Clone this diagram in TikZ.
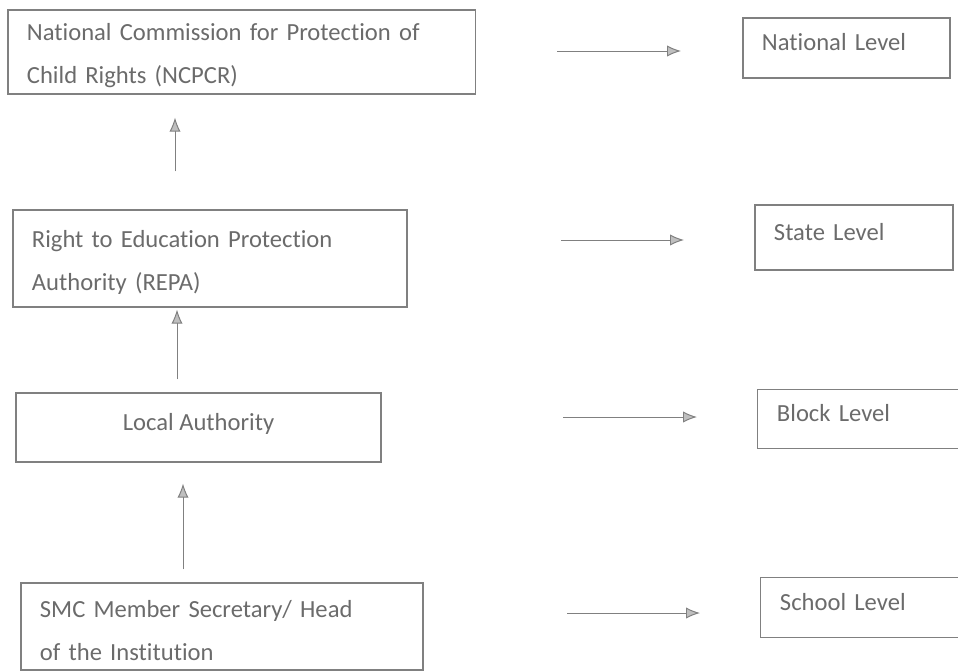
\documentclass[tikz,border=0pt]{standalone}
\usepackage{fontspec}
\setmainfont[Ligatures=NoCommon]{Carlito}
\usetikzlibrary{arrows.meta}

\definecolor{scangray}{gray}{0.42}
\definecolor{linegray}{gray}{0.5}

\tikzset{
	box/.style={rectangle,draw=linegray,line width=0.8pt,text=scangray,
		inner xsep=0.475cm,inner ysep=0pt,align=left,
		font=\fontsize{17.5}{30.5}\selectfont},
	levelbox/.style={box,text depth=0.28cm},
	openbox/.style={levelbox,draw=none},
	arr/.style={draw=linegray,line width=0.7pt,
		-{Latex[length=0.35cm,width=0.28cm,fill=lightgray]}}
}

\def\authorities{
	\path (241.5,52) node(NCPCR) [box,text depth=28pt,text width=10.725cm,minimum height=2.1cm] {National Commission for Protection of\\Child Rights (NCPCR)}
			(210,258.5) node(REPA) [box,text depth=28pt,text width=8.9cm,minimum height=2.425cm] {Right to Education Protection\\Authority (REPA)}
			(198.5,427.5) node(Local) [box,text depth=0.3cm,align=center,minimum width=9.125cm,minimum height=1.725cm] {Local Authority}
			(222,626.5) node(SMC) [box,text depth=25pt,text width=9.1cm,minimum height=2.175cm] {SMC Member Secretary/ Head\\of the Institution};
}
\def\levels{
	\path (846.5,48) node(National) [levelbox,text width=4.225cm,minimum height=1.5cm] {National Level}
			(854,237.5) node(State) [levelbox,text width=4cm,minimum height=1.625cm] {State Level}
			(870,419) node(Block) [openbox,text width=4.65cm,minimum height=1.45cm] {Block Level}
			(872.5,607.5) node(School) [openbox,text width=4.625cm,minimum height=1.475cm] {School Level};
	% boxes run off the right edge of the page
	\draw[draw=linegray,line width=0.8pt] (Block.north east) -- (Block.north west) -- (Block.south west) -- (Block.south east);
	\draw[draw=linegray,line width=0.8pt] (School.north east) -- (School.north west) -- (School.south west) -- (School.south east);
}

\begin{document}
\begin{tikzpicture}[x=0.025cm,y=-0.025cm]
\useasboundingbox (0,0) rectangle (958,671);
\authorities
\levels
\coordinate (u1) at (175,0);
\coordinate (u2) at (177,0);
\coordinate (u3) at (183,0);
\draw[arr,shorten <=0.95cm,shorten >=0.575cm] (u1 |- REPA.north) -- (u1 |- NCPCR.south);
\draw[arr,shorten <=0.325cm,shorten >=0.05cm] (u2 |- Local.north) -- (u2 |- REPA.south);
\draw[arr,shorten <=0.325cm,shorten >=0.525cm] (u3 |- SMC.north) -- (u3 |- Local.south);
\coordinate (n1) at (557,51);
\coordinate (n2) at (681,51);
\coordinate (s1) at (561,240);
\coordinate (s2) at (684,240);
\coordinate (b1) at (563,417);
\coordinate (b2) at (697,417);
\coordinate (c1) at (567,613);
\coordinate (c2) at (700,613);
\draw[arr] (n1) -- (n2);
\draw[arr] (s1) -- (s2);
\draw[arr] (b1) -- (b2);
\draw[arr] (c1) -- (c2);
\end{tikzpicture}
\end{document}
